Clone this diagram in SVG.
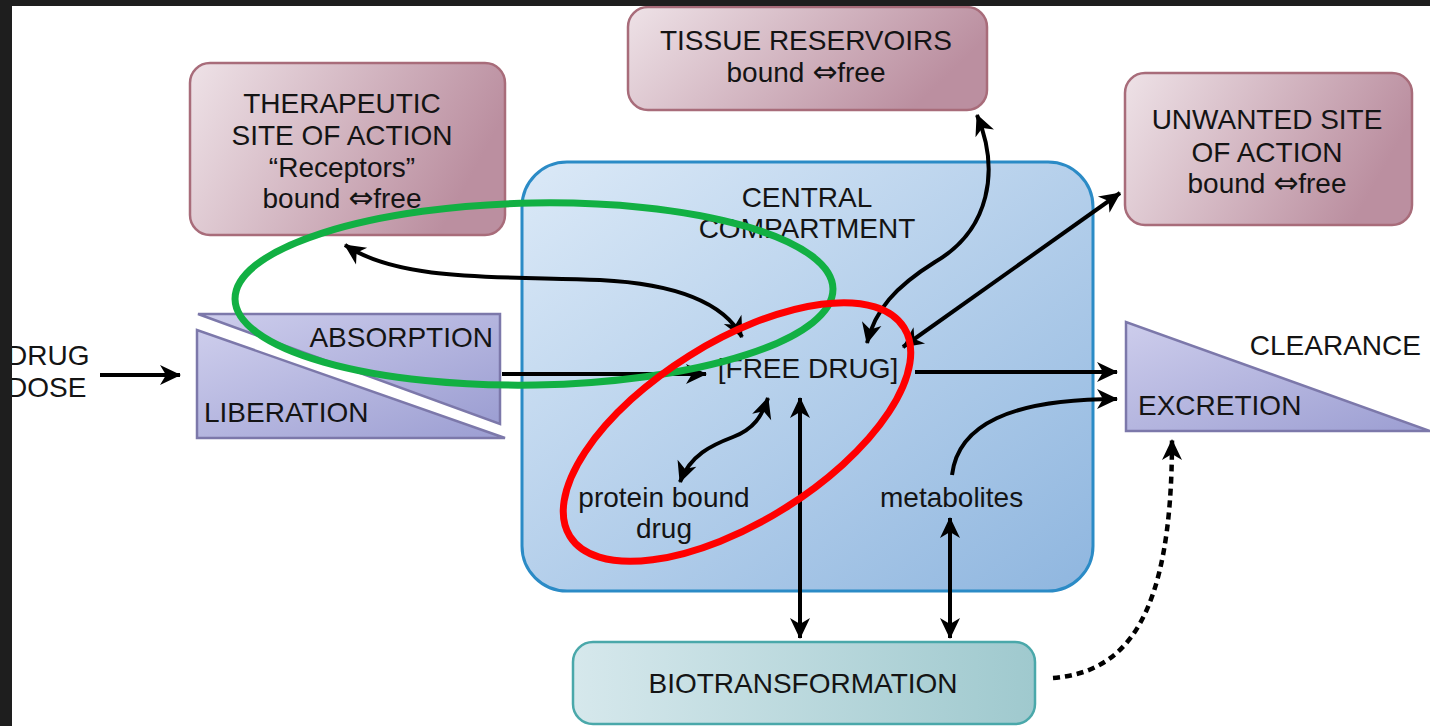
<svg xmlns="http://www.w3.org/2000/svg" width="1430" height="726" viewBox="0 0 1430 726">
<style>
  text { font-family: "Liberation Sans", Arial, sans-serif; font-size: 28px; fill: #141414; }
  .c { text-anchor: middle; }
  .pink { fill: url(#gPink); stroke: #a86c7a; stroke-width: 2.5; }
  .blue { fill: url(#gBlue); stroke: #2b8bc6; stroke-width: 3; }
  .lav { fill: url(#gLav); stroke: #7c78aa; stroke-width: 2.5; }
  .teal { fill: url(#gTeal); stroke: #4aa8aa; stroke-width: 2.5; }
  .arr { fill: none; stroke: #000; stroke-width: 4; }
  .one { marker-end: url(#ah); }
  .two { marker-start: url(#ah); marker-end: url(#ah); }
  .dot { fill: none; stroke: #000; stroke-width: 4.5; stroke-dasharray: 7 5; marker-end: url(#ah); }
  .arrow { font-family: "DejaVu Sans", sans-serif; font-size: 30px; }
</style>
<defs>
  <linearGradient id="gPink" x1="0" y1="0" x2="1" y2="0.3">
    <stop offset="0" stop-color="#eee2e7"/>
    <stop offset="1" stop-color="#bb8fa0"/>
  </linearGradient>
  <linearGradient id="gBlue" x1="0" y1="0" x2="1" y2="1">
    <stop offset="0" stop-color="#dbe9f7"/>
    <stop offset="1" stop-color="#8fb6df"/>
  </linearGradient>
  <linearGradient id="gLav" x1="0" y1="0" x2="1" y2="1">
    <stop offset="0" stop-color="#cdcdec"/>
    <stop offset="1" stop-color="#9c9ed2"/>
  </linearGradient>
  <linearGradient id="gTeal" x1="0" y1="0" x2="1" y2="0">
    <stop offset="0" stop-color="#d6e8ec"/>
    <stop offset="1" stop-color="#9fc9ce"/>
  </linearGradient>
  <marker id="ah" viewBox="0 0 22 20" markerUnits="userSpaceOnUse" markerWidth="22" markerHeight="20" refX="20" refY="10" orient="auto-start-reverse" overflow="visible">
    <path d="M0,0 L21,10 L0,20 L6,10 z" fill="#000"/>
  </marker>
</defs>

<rect x="0" y="0" width="1430" height="726" fill="#ffffff"/>

<g id="central">
  <rect class="blue" x="522" y="162" width="571" height="429" rx="45"/>
  <text class="c" x="807" y="207">CENTRAL</text>
  <text class="c" x="807" y="238">COMPARTMENT</text>
</g>

<g id="therapeutic">
  <rect class="pink" x="190" y="63" width="315" height="172" rx="20"/>
  <text class="c" x="342" y="113">THERAPEUTIC</text>
  <text class="c" x="342" y="145">SITE OF ACTION</text>
  <text class="c" x="342" y="177">“Receptors”</text>
  <text class="c" x="342" y="208">bound <tspan class="arrow">⇔</tspan>free</text>
</g>

<g id="tissue">
  <rect class="pink" x="628" y="7" width="359" height="103" rx="20"/>
  <text class="c" x="806" y="50">TISSUE RESERVOIRS</text>
  <text class="c" x="806" y="82">bound <tspan class="arrow">⇔</tspan>free</text>
</g>

<g id="unwanted">
  <rect class="pink" x="1125" y="73" width="287" height="152" rx="20"/>
  <text class="c" x="1267" y="129">UNWANTED SITE</text>
  <text class="c" x="1267" y="162">OF ACTION</text>
  <text class="c" x="1267" y="193">bound <tspan class="arrow">⇔</tspan>free</text>
</g>

<g id="absorption">
  <polygon class="lav" points="198,314 500,314 500,424"/>
  <polygon class="lav" points="197,330 197,438 505,438"/>
  <text x="493" y="347" text-anchor="end">ABSORPTION</text>
  <text x="204" y="422">LIBERATION</text>
</g>

<g id="excretion">
  <polygon class="lav" points="1126,322 1126,431 1430,431"/>
  <text x="1421" y="355" text-anchor="end">CLEARANCE</text>
  <text x="1138" y="415">EXCRETION</text>
</g>

<g id="biotransformation">
  <rect class="teal" x="573" y="642" width="462" height="82" rx="20"/>
  <text class="c" x="803" y="693">BIOTRANSFORMATION</text>
</g>

<g id="labels">
  <text x="7" y="365">DRUG</text>
  <text x="7" y="397">DOSE</text>
  <text class="c" x="808" y="378">[FREE DRUG]</text>
  <text class="c" x="664" y="507">protein bound</text>
  <text class="c" x="664" y="538">drug</text>
  <text x="880" y="507">metabolites</text>
</g>

<g id="connectors">
  <path class="arr one" d="M100,375 L180,375"/>
  <path class="arr one" d="M502,374 L706,374"/>
  <path class="arr one" d="M915,372 L1117,372"/>
  <path class="arr one" d="M952,475 C958,425 1010,399 1117,399"/>
  <path class="arr two" d="M800,398 L800,638"/>
  <path class="arr two" d="M950,518 L950,638"/>
  <path class="arr two" d="M680,482 C690,455 712,445 733,437 C754,429 762,416 768,398"/>
  <path class="arr two" d="M345,245 C400,282 500,276 600,280 C680,284 725,305 742,337"/>
  <path class="arr two" d="M977,115 C1000,170 990,230 935,262 C895,287 875,310 867,343"/>
  <path class="arr two" d="M903,347 L1120,193"/>
  <path class="dot" d="M1053,678 C1125,672 1172,620 1172,440"/>
</g>

<g id="highlights">
  <ellipse cx="534" cy="294" rx="299" ry="91" transform="rotate(-1 534 294)" fill="none" stroke="#12b043" stroke-width="7"/>
  <ellipse cx="737" cy="432" rx="197" ry="90" transform="rotate(-32 737 432)" fill="none" stroke="#ff0000" stroke-width="7"/>
</g>

<rect x="0" y="0" width="1430" height="6" fill="#1e1e1e"/>
<rect x="0" y="0" width="12" height="726" fill="#1e1e1e"/>
</svg>
